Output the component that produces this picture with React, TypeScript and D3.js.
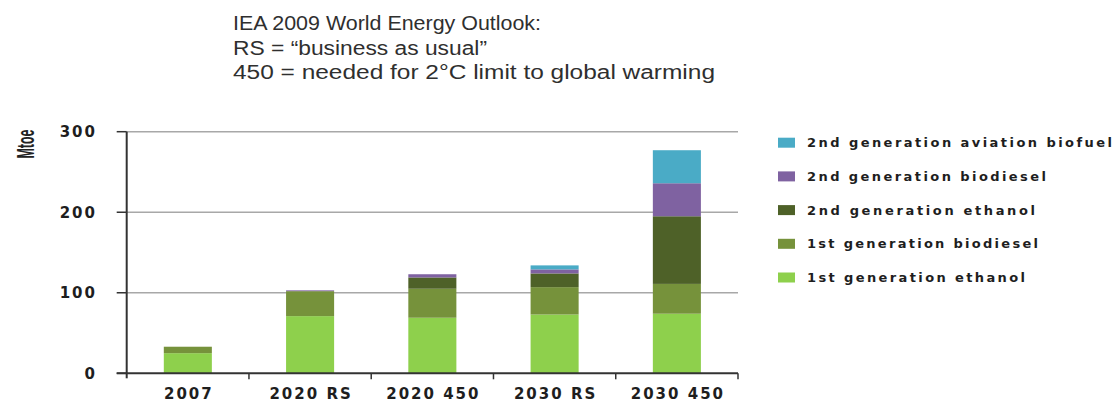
import React from "react";
import * as d3 from "d3";

// Biofuel demand scenarios, Mtoe
const categories = ["2007", "2020 RS", "2020 450", "2030 RS", "2030 450"];
const ethanol1st = [25, 71, 69, 73, 74];
const biodiesel1st = [8, 31, 36, 34, 37];
const ethanol2nd = [0, 0, 14, 17, 84];
const biodiesel2nd = [0, 1, 4, 5, 41];
const aviation2nd = [0, 0, 0, 5, 41];
const yTicks = [0, 100, 200, 300];

const seriesNames = [
  "1st generation ethanol",
  "1st generation biodiesel",
  "2nd generation ethanol",
  "2nd generation biodiesel",
  "2nd generation aviation biofuel",
];
const seriesColors = ["#8ed04c", "#76923b", "#4e6128", "#7f62a1", "#4aabc6"];
const titleLines = [
  "IEA 2009 World Energy Outlook:",
  "RS = \u201cbusiness as usual\u201d",
  "450 = needed for 2\u00b0C limit to global warming",
];

const W = 1120;
const H = 403;

export default function App() {
  const plotLeft = 126.7;
  const plotRight = 738;
  const y = d3.scaleLinear().domain([0, 300]).range([373.3, 131.7]);
  const x = d3
    .scaleBand<string>()
    .domain(categories)
    .range([plotLeft, plotRight])
    .paddingInner(0.607)
    .paddingOuter(0.3035);

  const rows = categories.map((c, i) => ({
    cat: c,
    s0: ethanol1st[i],
    s1: biodiesel1st[i],
    s2: ethanol2nd[i],
    s3: biodiesel2nd[i],
    s4: aviation2nd[i],
  }));
  const stack = d3.stack<any>().keys(["s0", "s1", "s2", "s3", "s4"]);
  const layers = stack(rows);

  const step = x.step();
  const boundaries = d3.range(categories.length + 1).map((i) => plotLeft + i * step);

  const tickFont = "'DejaVu Sans', sans-serif";
  const titleWidths = [308, 254, 482];
  // legend label widths, top row first
  const legendWidths = [305, 239, 228, 231, 218];

  return (
    <div style={{ position: "absolute", left: 0, top: 0 }}>
      <svg width={W} height={H} style={{ display: "block", background: "#fff" }}>
        {/* title */}
        {titleLines.map((t, i) => (
          <text
            key={t}
            x={233}
            y={30 + i * 24.5}
            fontFamily="'Liberation Sans', Arial, sans-serif"
            fontSize={20}
            fill="#2f2f2f"
            textLength={titleWidths[i]}
            lengthAdjust="spacingAndGlyphs"
          >
            {t}
          </text>
        ))}

        {/* gridlines */}
        {yTicks
          .filter((v) => v > 0)
          .map((v) => (
            <line
              key={"g" + v}
              x1={plotLeft}
              x2={plotRight}
              y1={y(v)}
              y2={y(v)}
              stroke="#a8a8a8"
              strokeWidth={1.5}
            />
          ))}

        {/* stacked bars */}
        {layers.map((layer, li) => (
          <g key={li} fill={seriesColors[li]}>
            {layer.map((d, i) =>
              d[1] - d[0] > 0 ? (
                <rect
                  key={i}
                  x={x(categories[i])}
                  width={x.bandwidth()}
                  y={y(d[1])}
                  height={y(d[0]) - y(d[1])}
                />
              ) : null
            )}
          </g>
        ))}

        {/* y axis */}
        <line x1={plotLeft} x2={plotLeft} y1={y(300)} y2={y(0) + 5} stroke="#333" strokeWidth={2} />
        {yTicks.map((v) => (
          <g key={"t" + v}>
            <line x1={plotLeft - 10} x2={plotLeft} y1={y(v)} y2={y(v)} stroke="#333" strokeWidth={1.5} />
            <text
              x={97}
              y={y(v)}
              dy="0.36em"
              textAnchor="end"
              fontFamily={tickFont}
              fontWeight="bold"
              fontSize={15}
              letterSpacing={2}
              fill="#1e1e1e"
            >
              {v}
            </text>
          </g>
        ))}

        {/* x axis */}
        <line x1={plotLeft - 10} x2={plotRight} y1={y(0)} y2={y(0)} stroke="#333" strokeWidth={2} />
        {boundaries.slice(1).map((bx, i) => (
          <line key={"b" + i} x1={bx} x2={bx} y1={y(0)} y2={y(0) + 6} stroke="#333" strokeWidth={1.5} />
        ))}
        {categories.map((c) => (
          <text
            key={c}
            x={(x(c) as number) + x.bandwidth() / 2 + 1}
            y={399}
            textAnchor="middle"
            fontFamily={tickFont}
            fontWeight="bold"
            fontSize={15}
            letterSpacing={2}
            fill="#1e1e1e"
          >
            {c}
          </text>
        ))}

        {/* y axis title */}
        <text
          transform="translate(34,144) rotate(-90)"
          textAnchor="middle"
          fontFamily="'Liberation Sans Narrow', 'Liberation Sans', sans-serif"
          fontWeight="bold"
          fontSize={23}
          textLength={29}
          lengthAdjust="spacingAndGlyphs"
          fill="#222"
        >
          Mtoe
        </text>

        {/* legend, top entry is the top of the stack */}
        {seriesNames
          .map((name, i) => ({ name, color: seriesColors[i] }))
          .reverse()
          .map((d, i) => {
            const cy = 142.7 + i * 33.7;
            return (
              <g key={d.name}>
                <rect x={778} y={cy - 5} width={17} height={10} fill={d.color} />
                <text
                  x={807}
                  y={cy}
                  dy="0.36em"
                  fontFamily={tickFont}
                  fontWeight="bold"
                  fontSize={13}
                  textLength={legendWidths[i]}
                  lengthAdjust="spacing"
                  fill="#1e1e1e"
                >
                  {d.name}
                </text>
              </g>
            );
          })}
      </svg>
    </div>
  );
}
